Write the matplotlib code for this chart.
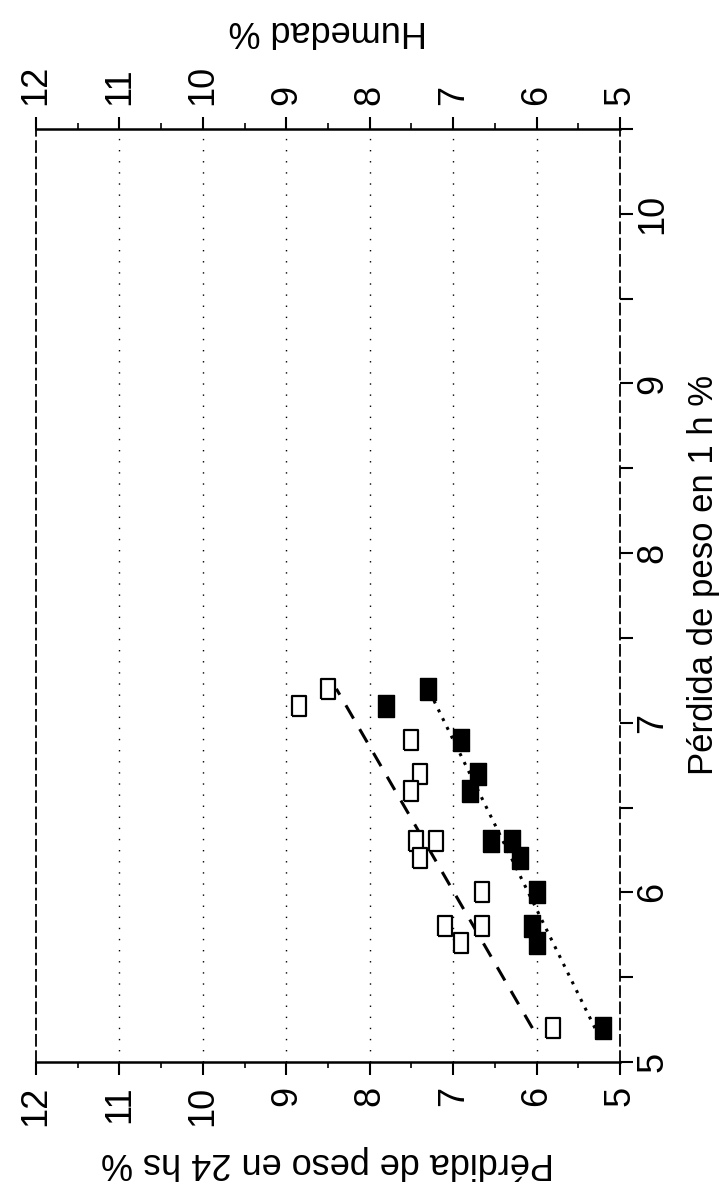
import matplotlib
matplotlib.use("Agg")
import matplotlib.pyplot as plt
from matplotlib.ticker import MultipleLocator

plt.rcParams['font.family'] = ['Liberation Sans', 'DejaVu Sans']

# datos (perdida en 1 h, perdida en 24 hs, humedad)
h1_abiertos = [7.1, 7.2, 6.9, 6.7, 6.6, 6.3, 6.3, 6.2, 6.0, 5.8, 5.8, 5.7, 5.2]
p24_abiertos = [8.85, 8.5, 7.5, 7.4, 7.5, 7.45, 7.2, 7.4, 6.65, 6.65, 7.1, 6.9, 5.8]
h1_llenos = [7.1, 7.2, 6.9, 6.7, 6.6, 6.3, 6.3, 6.2, 6.0, 5.8, 5.7, 5.2]
humedad_llenos = [7.8, 7.3, 6.9, 6.7, 6.8, 6.55, 6.3, 6.2, 6.0, 6.05, 6.0, 5.2]

# rectas de ajuste (extremos)
recta_h1 = [5.2, 7.2]
recta_p24 = [6.05, 8.4]
recta_humedad = [5.3, 7.3]

ticks_izq = [12, 11, 10, 9, 8, 7, 6, 5]
ticks_1h = [5, 6, 7, 8, 9, 10]

W, H = 726, 1196
fig = plt.figure(figsize=(W / 100, H / 100), dpi=100)
x0, x1, y0, y1 = 36, 620, 129, 1062
ax = fig.add_axes([x0 / W, 1 - y1 / H, (x1 - x0) / W, (y1 - y0) / H])

# el grafico esta girado 90 grados: eje horizontal = % en 24 hs (invertido)
ax.set_xlim(12, 5)
ax.set_ylim(5, 10.5)

# grilla punteada vertical
for v in ticks_izq[1:-1]:
    ax.axvline(v, color='black', lw=1.0, linestyle=(0, (1, 7)), zorder=1)

# marcador rectangular (mas alto que ancho)
rect = [(-0.72, -1), (0.72, -1), (0.72, 1), (-0.72, 1), (-0.72, -1)]

ax.plot(recta_p24, recta_h1, color='black', lw=2.2, linestyle=(0, (5, 4)), zorder=2)
ax.plot(recta_humedad, recta_h1, color='black', lw=2.2, linestyle=(0, (1, 2.2)), zorder=2)
ax.plot(p24_abiertos, h1_abiertos, linestyle='none', marker=rect, markersize=15,
        markerfacecolor='white', markeredgecolor='black', markeredgewidth=1.6, zorder=3)
ax.plot(humedad_llenos, h1_llenos, linestyle='none', marker=rect, markersize=16,
        markerfacecolor='black', markeredgecolor='black', markeredgewidth=1.0, zorder=4)

# bordes
ax.spines['top'].set_linewidth(1.8)
ax.spines['bottom'].set_linewidth(1.8)
ax.spines['left'].set_linewidth(1.3)
ax.spines['left'].set_linestyle((0, (6, 3)))
ax.spines['right'].set_linewidth(1.3)
ax.spines['right'].set_linestyle((0, (6, 3)))

# eje inferior: perdida en 24 hs
ax.set_xticks(ticks_izq)
ax.set_xticklabels([str(t) for t in ticks_izq], rotation=90, fontsize=26)
ax.xaxis.set_minor_locator(MultipleLocator(0.5))
ax.tick_params(axis='x', which='major', direction='out', length=9, width=1.5, pad=8)
ax.tick_params(axis='x', which='minor', direction='out', length=4, width=1.2)
ax.set_xlabel('Pérdida de peso en 24 hs %', fontsize=26, rotation=180, labelpad=14)

# eje derecho: perdida en 1 h
ax.yaxis.tick_right()
ax.set_yticks(ticks_1h)
ax.set_yticklabels([str(t) for t in ticks_1h], rotation=90, fontsize=26, va='center')
ax.yaxis.set_minor_locator(MultipleLocator(0.5))
ax.tick_params(axis='y', which='both', direction='out', length=9, width=1.5, pad=2)
fig.text(703 / W, 1 - 575 / H, 'Pérdida de peso en 1 h %', fontsize=25,
         rotation=90, ha='center', va='center')

# eje superior: humedad
ax_top = ax.twiny()
ax_top.set_xlim(12, 5)
ax_top.set_xticks(ticks_izq)
ax_top.set_xticklabels([str(t) for t in ticks_izq], rotation=90, fontsize=26)
ax_top.xaxis.set_minor_locator(MultipleLocator(0.5))
ax_top.tick_params(axis='x', which='major', direction='out', length=9, width=1.5, pad=8)
ax_top.tick_params(axis='x', which='minor', direction='out', length=4, width=1.2)
ax_top.set_xlabel('Humedad %', fontsize=26, rotation=180, labelpad=18)
for s in ax_top.spines.values():
    s.set_visible(False)

fig.savefig('out.png', dpi=100, facecolor='white')
